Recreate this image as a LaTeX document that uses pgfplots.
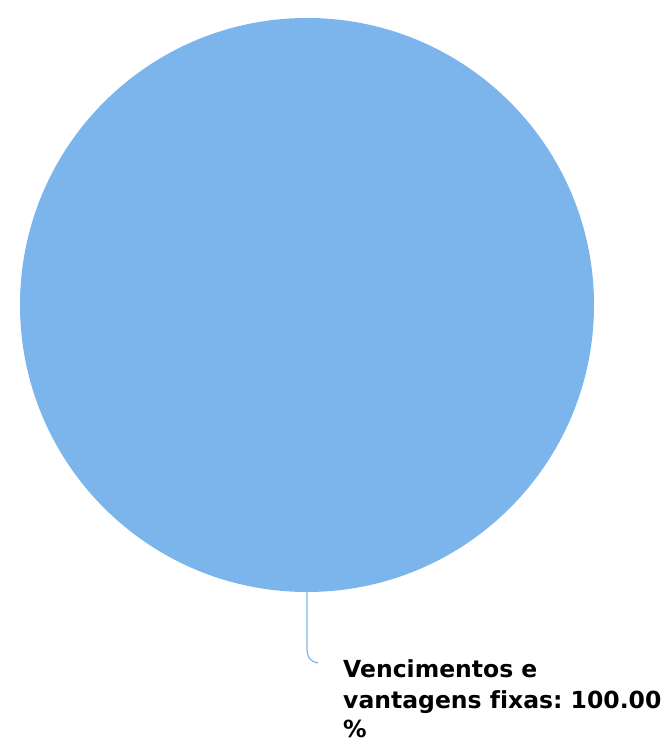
\documentclass[border=0pt]{standalone}
\usepackage{fontspec}
\setmainfont{DejaVu Sans}[Ligatures=NoCommon]
\usepackage{pgfplots}
\usepackage{pgfplotstable}
\pgfplotsset{compat=1.18}
\definecolor{slice}{HTML}{7CB5EC}
\pgfplotstableread[col sep=comma]{
label,value
Vencimentos e vantagens fixas,100.00
}\pietable
\frenchspacing
\begin{document}
\frenchspacing
\begin{tikzpicture}
\begin{axis}[name=ax, scale only axis, width=667pt, height=742pt,
  xmin=0, xmax=667, ymin=0, ymax=742, hide axis, clip=false]
\pgfplotstablegetelem{0}{value}\of\pietable
\let\sliceval\pgfplotsretval
\pgfmathsetmacro{\ang}{\sliceval/100*360}
\addplot[draw=none, forget plot] coordinates {(307,437)};
\ifdim\ang pt<359.99pt
  \fill[slice] (axis cs:307,437) -- ++(90:287pt) arc[start angle=90, end angle=90-\ang, radius=287pt] -- cycle;
\else
  \fill[slice] (axis cs:307,437) circle[radius=287];
\fi
\draw[slice, line width=1.2pt] (axis cs:307,150) -- (axis cs:307,94) .. controls (axis cs:307,84) and (axis cs:311,80) .. (axis cs:318,79);
\node[anchor=base west, inner sep=0pt, font=\fontsize{23.5}{31}\selectfont\bfseries, text=black] at (axis cs:343,64) {Vencimentos e};
\node[anchor=base west, inner sep=0pt, font=\fontsize{23.5}{31}\selectfont\bfseries, text=black] at (axis cs:343,34) {vantagens fixas:\ \sliceval};
\node[anchor=base west, inner sep=0pt, font=\fontsize{23.5}{31}\selectfont\bfseries, text=black] at (axis cs:343,5) {\%};
\end{axis}
\pgfresetboundingbox
\path (ax.south west) rectangle (ax.north east);
\end{tikzpicture}
\end{document}
